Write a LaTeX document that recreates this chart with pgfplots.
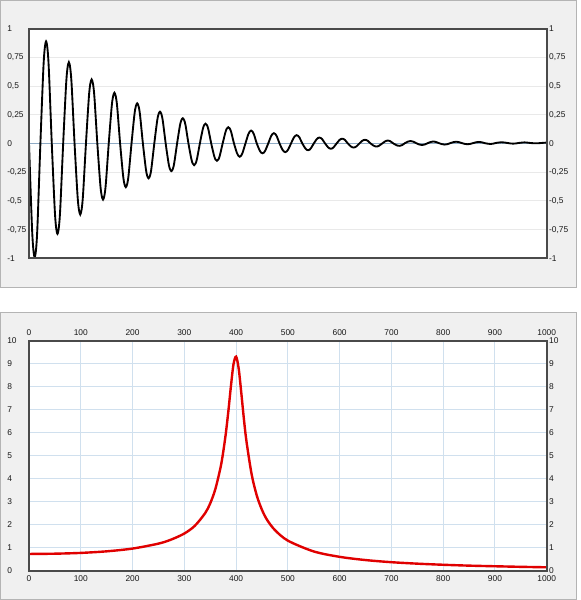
\documentclass[border=0pt]{standalone}
\usepackage{fontspec}
\setmainfont{Liberation Sans}
\usepackage{pgfplots}
\pgfplotsset{compat=1.18}
\definecolor{panelbg}{HTML}{F0F0F0}
\definecolor{panelborder}{HTML}{B4B4B4}
\definecolor{frame}{HTML}{4A4A4A}
\definecolor{lgrid}{HTML}{E9E9E9}
\definecolor{zeroline}{HTML}{8EAAC4}
\definecolor{bgrid}{HTML}{D0E0EE}
\definecolor{curvered}{HTML}{E00000}
\pgfplotsset{
  base/.style={
    scale only axis, width=388.3pt, height=172.3pt, anchor=north west,
    axis line style={frame, line width=1.4pt},
    major tick length=0pt,
    tick label style={font=\fontsize{6.3}{7.5}\selectfont, text=black!90},
    /pgf/number format/assume math mode=true,
    /pgf/number format/1000 sep={},
    xmin=0, xmax=1000,
  },
  lefty/.style={yticklabel style={anchor=west, inner sep=0pt, xshift=-16.5pt}},
  righty/.style={yticklabel pos=right, yticklabel style={anchor=west, inner sep=0pt, xshift=1.6pt}},
}
\begin{document}
\begin{tikzpicture}
\path[use as bounding box] (0,0) rectangle (435.75pt,-450pt);
\draw[panelborder, fill=panelbg, line width=0.75pt] (0.375pt,-0.375pt) rectangle (432pt,-215.25pt);
\draw[panelborder, fill=panelbg, line width=0.75pt] (0.375pt,-234pt) rectangle (432pt,-449.25pt);

% ---------- top panel ----------
\begin{axis}[base, lefty, at={(21.75pt,-21.5pt)},
  ymin=-1, ymax=1, xtick=\empty,
  ytick={-1,-0.75,-0.5,-0.25,0,0.25,0.5,0.75,1},
  yticklabels={-1,{-0,75},{-0,5},{-0,25},0,{0,25},{0,5},{0,75},1},
  ymajorgrids, grid style={lgrid, line width=0.75pt},
  extra y ticks={0}, extra y tick labels={},
  extra y tick style={grid=major, grid style={zeroline, line width=0.6pt}},
  axis background/.style={fill=white}]
\addplot[black, line width=1.4pt, smooth] coordinates {
(0,0) (5.5,-0.700) (8.25,-0.915) (11,-0.99) (13.75,-0.915) (16.5,-0.700)
(22,0) (27.5,0.629) (30.25,0.822) (33,0.89) (35.75,0.822) (38.5,0.629)
(44,0) (49.5,-0.556) (52.25,-0.726) (55,-0.786) (57.75,-0.726) (60.5,-0.556)
(66,0) (71.5,0.501) (74.25,0.654) (77,0.708) (79.75,0.654) (82.5,0.501)
(88,0) (93.5,-0.437) (96.25,-0.571) (99,-0.618) (101.75,-0.571) (104.5,-0.437)
(110,0) (115.5,0.395) (118.25,0.516) (121,0.558) (123.75,0.516) (126.5,0.395)
(132,0) (137.5,-0.345) (140.25,-0.451) (143,-0.488) (145.75,-0.451) (148.5,-0.345)
(154,0) (159.5,0.312) (162.25,0.408) (165,0.442) (167.75,0.408) (170.5,0.312)
(176,0) (181.5,-0.269) (184.25,-0.351) (187,-0.38) (189.75,-0.351) (192.5,-0.269)
(198,0) (203.5,0.247) (206.25,0.323) (209,0.35) (211.75,0.323) (214.5,0.247)
(220,0) (225.5,-0.214) (228.25,-0.280) (231,-0.303) (233.75,-0.280) (236.5,-0.214)
(242,0) (247.5,0.196) (250.25,0.256) (253,0.277) (255.75,0.256) (258.5,0.196)
(264,0) (269.5,-0.170) (272.25,-0.222) (275,-0.24) (277.75,-0.222) (280.5,-0.170)
(286,0) (291.5,0.156) (294.25,0.203) (297,0.22) (299.75,0.203) (302.5,0.156)
(308,0) (313.5,-0.133) (316.25,-0.174) (319,-0.188) (321.75,-0.174) (324.5,-0.133)
(330,0) (335.5,0.122) (338.25,0.160) (341,0.173) (343.75,0.160) (346.5,0.122)
(352,0) (357.5,-0.106) (360.25,-0.139) (363,-0.15) (365.75,-0.139) (368.5,-0.106)
(374,0) (379.5,0.100) (382.25,0.131) (385,0.142) (387.75,0.131) (390.5,0.100)
(396,0) (401.5,-0.081) (404.25,-0.106) (407,-0.115) (409.75,-0.106) (412.5,-0.081)
(418,0) (423.5,0.080) (426.25,0.104) (429,0.113) (431.75,0.104) (434.5,0.080)
(440,0) (445.5,-0.060) (448.25,-0.079) (451,-0.085) (453.75,-0.079) (456.5,-0.060)
(462,0) (467.5,0.064) (470.25,0.083) (473,0.09) (475.75,0.083) (478.5,0.064)
(484,0) (489.5,-0.053) (492.25,-0.069) (495,-0.075) (497.75,-0.069) (500.5,-0.053)
(506,0) (511.5,0.052) (514.25,0.067) (517,0.073) (519.75,0.067) (522.5,0.052)
(528,0) (533.5,-0.041) (536.25,-0.054) (539,-0.058) (541.75,-0.054) (544.5,-0.041)
(550,0) (555.5,0.037) (558.25,0.048) (561,0.052) (563.75,0.048) (566.5,0.037)
(572,0) (577.5,-0.032) (580.25,-0.042) (583,-0.045) (585.75,-0.042) (588.5,-0.032)
(594,0) (599.5,0.030) (602.25,0.039) (605,0.042) (607.75,0.039) (610.5,0.030)
(616,0) (621.5,-0.025) (624.25,-0.032) (627,-0.035) (629.75,-0.032) (632.5,-0.025)
(638,0) (643.5,0.023) (646.25,0.030) (649,0.032) (651.75,0.030) (654.5,0.023)
(660,0) (665.5,-0.018) (668.25,-0.024) (671,-0.026) (673.75,-0.024) (676.5,-0.018)
(682,0) (687.5,0.018) (690.25,0.024) (693,0.026) (695.75,0.024) (698.5,0.018)
(704,0) (709.5,-0.014) (712.25,-0.018) (715,-0.02) (717.75,-0.018) (720.5,-0.014)
(726,0.003) (731.5,0.016) (737,0.022) (742.5,0.016)
(748,0.003) (753.5,-0.008) (759,-0.013) (764.5,-0.008)
(770,0.003) (775.5,0.013) (781,0.018) (786.5,0.013)
(792,0.003) (797.5,-0.005) (803,-0.009) (808.5,-0.005)
(814,0.004) (819.5,0.012) (825,0.016) (830.5,0.012)
(836,0.004) (841.5,-0.003) (847,-0.006) (852.5,-0.003)
(858,0.004) (863.5,0.011) (869,0.014) (874.5,0.011)
(880,0.004) (885.5,-0.001) (891,-0.004) (896.5,-0.001)
(902,0.005) (907.5,0.009) (913,0.011) (918.5,0.009)
(924,0.005) (929.5,0.001) (935,-0.001) (940.5,0.001)
(946,0.005) (951.5,0.008) (957,0.010) (962.5,0.008)
(968,0.005) (973.5,0.003) (979,0.002) (984.5,0.003)
(990,0.005) (995.5,0.007) (1000,0.008)
};
\end{axis}
\begin{axis}[base, righty, at={(21.75pt,-21.5pt)},
  ymin=-1, ymax=1, xtick=\empty,
  ytick={-1,-0.75,-0.5,-0.25,0,0.25,0.5,0.75,1},
  yticklabels={-1,{-0,75},{-0,5},{-0,25},0,{0,25},{0,5},{0,75},1}]
\end{axis}

% ---------- bottom panel ----------
\begin{axis}[base, lefty, at={(21.75pt,-255.75pt)},
  ymin=0, ymax=10,
  xtick={0,100,...,1000}, ytick={0,1,...,10},
  xticklabel style={anchor=center, inner sep=0pt, yshift=-6.2pt},
  grid=major, grid style={bgrid, line width=0.75pt},
  axis background/.style={fill=white}]
\addplot[curvered, line width=1.8pt, smooth] coordinates {
(0,0.73) (50,0.742) (100,0.776) (150,0.845) (200,0.965) (250,1.18) (275,1.36)
(300,1.62) (320,1.95) (340,2.50) (350,2.93) (360,3.56) (370,4.50) (375,5.15)
(380,5.95) (385,6.93) (390,8.03) (395,8.99) (400,9.32) (405,8.80) (410,7.75)
(415,6.62) (420,5.64) (430,4.20) (440,3.27) (450,2.65) (460,2.21) (475,1.77)
(500,1.31) (550,0.84) (600,0.605) (650,0.465) (700,0.372) (750,0.308)
(800,0.260) (850,0.222) (900,0.195) (950,0.170) (1000,0.150)
};
\end{axis}
\begin{axis}[base, righty, at={(21.75pt,-255.75pt)},
  ymin=0, ymax=10,
  xtick={0,100,...,1000}, ytick={0,1,...,10},
  xticklabel pos=upper,
  xticklabel style={anchor=center, inner sep=0pt, yshift=6.5pt}]
\end{axis}
\end{tikzpicture}
\end{document}
